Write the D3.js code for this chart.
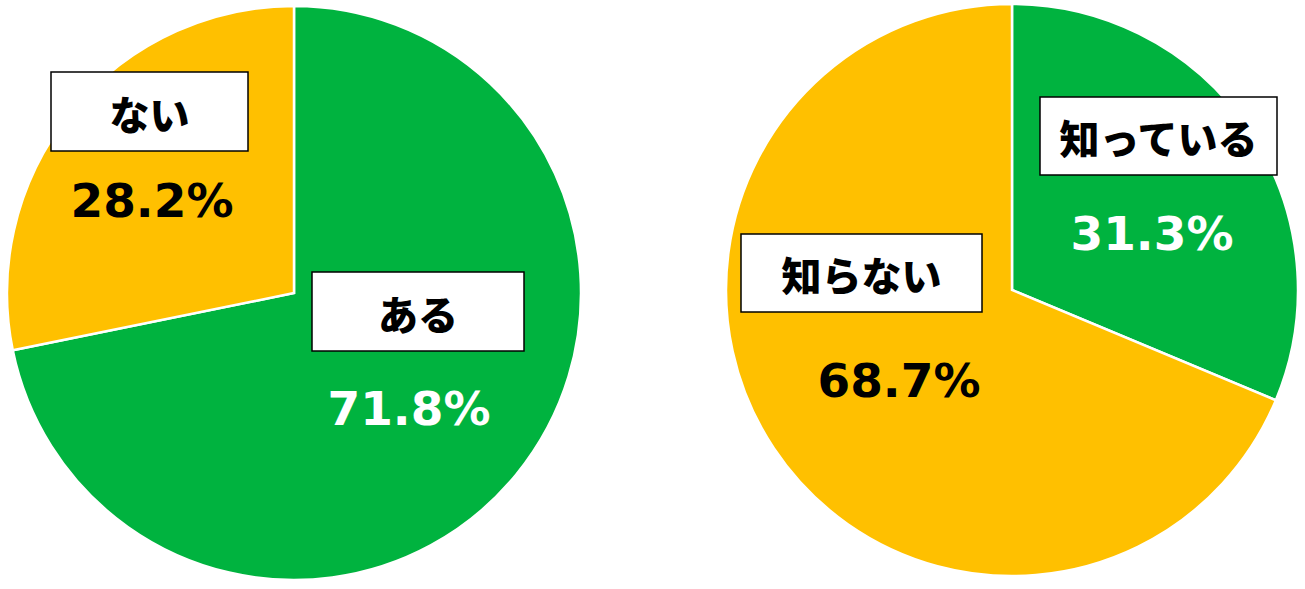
<!DOCTYPE html>
<html><head><meta charset="utf-8">
<script src="https://cdn.jsdelivr.net/npm/d3@7"></script>
<style>html,body{margin:0;padding:0;background:#fff;}svg{display:block;}</style>
</head><body>
<svg id="chart" width="1305" height="589"></svg>
<script>
// ---- data ----
const categoriesA = ["ある", "ない"];
const valuesA = [71.8, 28.2];
const categoriesB = ["知っている", "知らない"];
const valuesB = [31.3, 68.7];
const colors = ["#00B33F", "#FFC000"];

// ---- layout ----
const pies = [
  { cats: categoriesA, vals: valuesA, cx: 294, cy: 293, r: 287,
    boxes: [ {x:312, y:272, w:212, h:79, pctX:409, pctY:425, pctFill:"#fff"},
             {x:51,  y:72,  w:197, h:79, pctX:152, pctY:217, pctFill:"#000"} ] },
  { cats: categoriesB, vals: valuesB, cx: 1012, cy: 290, r: 286,
    boxes: [ {x:1040, y:97,  w:237, h:78, pctX:1152, pctY:250, pctFill:"#fff"},
             {x:741,  y:234, w:241, h:78, pctX:899,  pctY:397, pctFill:"#000"} ] }
];

const svg = d3.select("#chart");
const pieGen = d3.pie().sort(null).value(d => d);
const fmt = d3.format(".1f");

pies.forEach(p => {
  const g = svg.append("g").attr("transform", `translate(${p.cx},${p.cy})`);
  const arc = d3.arc().innerRadius(0).outerRadius(p.r);
  g.selectAll("path").data(pieGen(p.vals)).join("path")
    .attr("d", arc)
    .attr("fill", (d, i) => colors[i])
    .attr("stroke", "#fff")
    .attr("stroke-width", 2.5)
    .attr("stroke-linejoin", "miter");

  p.cats.forEach((c, i) => {
    const b = p.boxes[i];
    svg.append("rect")
      .attr("x", b.x).attr("y", b.y).attr("width", b.w).attr("height", b.h)
      .attr("fill", "#fff").attr("stroke", "#000").attr("stroke-width", 1.5);
    svg.append("text")
      .attr("x", b.x + b.w / 2).attr("y", b.y + b.h / 2 + 1)
      .attr("text-anchor", "middle").attr("dominant-baseline", "central")
      .attr("font-family", "'Noto Sans CJK JP', sans-serif")
      .attr("font-weight", 900).attr("font-size", 40)
      .attr("fill", "#000")
      .text(c);
    svg.append("text")
      .attr("x", b.pctX).attr("y", b.pctY)
      .attr("text-anchor", "middle")
      .attr("font-family", "'DejaVu Sans', Verdana, sans-serif")
      .attr("font-weight", 700).attr("font-size", 47)
      .attr("fill", b.pctFill)
      .text(fmt(p.vals[i]) + "%");
  });
});
</script>
</body></html>
